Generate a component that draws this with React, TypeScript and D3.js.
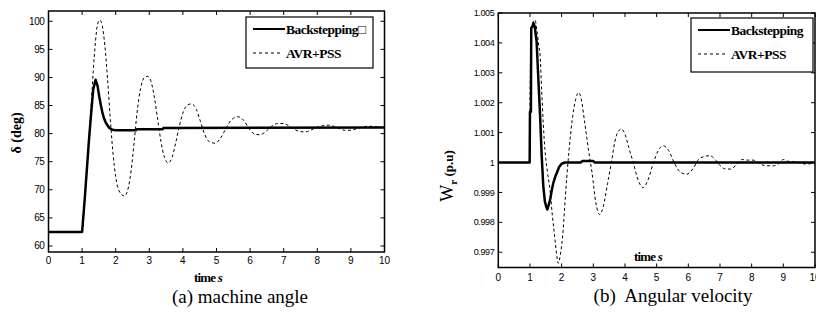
import * as d3 from "d3";

// time axis ticks shared by both panels
const timeTicks = [0, 1, 2, 3, 4, 5, 6, 7, 8, 9, 10];

// (a) machine angle, delta in degrees
const angleTicks = [60, 65, 70, 75, 80, 85, 90, 95, 100];
const angleBackT = [0, 1.0, 1.02, 1.08, 1.14, 1.2, 1.26, 1.33, 1.4, 1.46, 1.51, 1.56, 1.61, 1.66, 1.71, 1.81, 1.9, 2.0, 2.6, 2.62, 3.4, 3.42, 10];
const angleBackV = [62.5, 62.5, 64, 68.5, 73.5, 78.5, 83, 87.8, 89.6, 88.5, 86.6, 85, 83.6, 82.6, 81.9, 81.0, 80.7, 80.6, 80.6, 80.8, 80.8, 81.0, 81.1];
const anglePssT = [0, 1.0, 1.08, 1.14, 1.2, 1.26, 1.33, 1.4, 1.46, 1.53, 1.6, 1.68, 1.76, 1.84, 1.92, 2.0, 2.1, 2.26, 2.38, 2.46, 2.55, 2.64, 2.74, 2.84, 2.95, 3.05, 3.15, 3.25, 3.35, 3.45, 3.56, 3.68, 3.78, 3.9, 4.02, 4.14, 4.26, 4.4, 4.52, 4.64, 4.78, 4.96, 5.12, 5.28, 5.45, 5.65, 5.82, 5.98, 6.14, 6.3, 6.47, 6.64, 6.82, 6.99, 7.15, 7.31, 7.47, 7.63, 7.8, 7.98, 8.15, 8.33, 8.49, 8.65, 8.81, 8.97, 9.14, 9.3, 9.47, 9.65, 9.82, 10];
const anglePssV = [62.5, 62.5, 68.5, 73.5, 78.5, 84, 91, 96.5, 99.5, 100.2, 99.2, 95.5, 89.5, 82.5, 76.5, 72.3, 69.8, 68.9, 70.5, 73.5, 78.5, 84, 88, 89.9, 90.2, 89.3, 86.5, 82.5, 78.5, 75.8, 74.8, 75.8, 78.2, 81.5, 84, 85.1, 85.3, 84.3, 82.2, 80, 78.6, 78.3, 79.2, 80.9, 82.5, 83.0, 82.3, 80.8, 79.9, 79.8, 80.4, 81.3, 81.8, 81.8, 81.4, 80.8, 80.4, 80.3, 80.6, 81.1, 81.4, 81.5, 81.3, 80.9, 80.6, 80.6, 80.8, 81.1, 81.3, 81.3, 81.2, 81.1];

// (b) angular velocity, p.u.
const speedTicks = [0.997, 0.998, 0.999, 1, 1.001, 1.002, 1.003, 1.004, 1.005];
const speedTickLabels = ["0.997", "0.998", "0.999", "1", "1.001", "1.002", "1.003", "1.004", "1.005"];
const speedBackT = [0, 0.99, 1.0, 1.03, 1.04, 1.08, 1.11, 1.15, 1.21, 1.26, 1.32, 1.37, 1.42, 1.47, 1.51, 1.55, 1.6, 1.64, 1.69, 1.74, 1.8, 1.85, 1.92, 2.0, 2.1, 2.6, 2.65, 3.0, 3.05, 10];
const speedBackV = [1.0, 1.0, 1.0017, 1.0017, 1.0045, 1.00455, 1.00466, 1.00455, 1.00404, 1.0029, 1.00157, 1.00023, 0.99922, 0.9987, 0.99854, 0.99843, 0.99862, 0.99878, 0.99908, 0.99933, 0.99953, 0.99966, 0.99985, 0.99996, 1.0, 1.0, 1.00005, 1.00005, 1.0, 1.0];
const speedPssT = [0, 0.99, 1.0, 1.04, 1.1, 1.16, 1.22, 1.28, 1.32, 1.37, 1.42, 1.47, 1.55, 1.63, 1.71, 1.79, 1.85, 1.89, 1.96, 2.05, 2.12, 2.2, 2.27, 2.33, 2.44, 2.54, 2.64, 2.72, 2.8, 2.88, 2.96, 3.08, 3.2, 3.32, 3.45, 3.57, 3.68, 3.78, 3.89, 4.0, 4.12, 4.26, 4.42, 4.57, 4.72, 4.9, 5.05, 5.21, 5.38, 5.55, 5.75, 5.95, 6.15, 6.32, 6.5, 6.68, 6.85, 7.0, 7.15, 7.32, 7.5, 7.7, 7.87, 8.05, 8.2, 8.4, 8.55, 8.68, 8.85, 9.0, 9.15, 9.31, 9.5, 9.7, 9.85, 10];
const speedPssV = [1.0, 1.0, 1.0017, 1.0045, 1.0047, 1.00477, 1.0044, 1.0039, 1.00359, 1.0024, 1.0013, 1.00046, 0.9997, 0.9991, 0.9982, 0.99743, 0.99685, 0.99663, 0.99692, 0.99777, 0.9989, 1.0, 1.0008, 1.0014, 1.0021, 1.00234, 1.002, 1.0014, 1.00079, 1.0002, 0.99966, 0.99865, 0.99826, 0.99855, 0.9993, 1.0, 1.0007, 1.00103, 1.00112, 1.00095, 1.0005, 1.0, 0.9994, 0.99916, 0.9994, 1.0, 1.0004, 1.00056, 1.0004, 1.0, 0.99968, 0.99961, 0.9998, 1.0001, 1.0002, 1.00023, 1.0001, 0.9999, 0.99979, 0.99978, 0.9999, 1.0001, 1.00008, 1.00008, 1.0, 0.9999, 0.99989, 0.99989, 0.99996, 1.0001, 1.00004, 1.00003, 1.0, 0.99995, 0.99996, 1.0];

const seriesNames = ["Backstepping", "AVR+PSS"];

const zip = (t: number[], v: number[]) => t.map((d, i) => [d, v[i]] as [number, number]);

interface PanelProps {
  box: { x0: number; x1: number; y0: number; y1: number };
  yDomain: [number, number];
  yTicks: number[];
  yLabels: string[];
  yFont: number;
  xLabelY: number;
  back: [number, number][];
  pss: [number, number][];
  legend: { x: number; y: number; w: number; h: number; first: string };
}

function Panel({ box, yDomain, yTicks, yLabels, yFont, xLabelY, back, pss, legend }: PanelProps) {
  const x = d3.scaleLinear().domain([0, 10]).range([box.x0, box.x1]);
  const y = d3.scaleLinear().domain(yDomain).range([box.y1, box.y0]);
  const solid = d3.line<[number, number]>().x(d => x(d[0])).y(d => y(d[1]));
  const smooth = d3.line<[number, number]>().x(d => x(d[0])).y(d => y(d[1])).curve(d3.curveMonotoneX);
  const tk = 4;

  return (
    <g>
      <defs>
        <clipPath id={`clip${box.x0}`}>
          <rect x={box.x0} y={box.y0} width={box.x1 - box.x0} height={box.y1 - box.y0} />
        </clipPath>
      </defs>
      <g clipPath={`url(#clip${box.x0})`}>
        <path d={smooth(pss) ?? ""} fill="none" stroke="#000" strokeWidth={1} strokeDasharray="3,2.5" />
        <path d={solid(back) ?? ""} fill="none" stroke="#000" strokeWidth={2.5} strokeLinejoin="round" />
      </g>

      {/* ticks on all four sides, pointing inward */}
      {timeTicks.map(t => (
        <g key={`xt${t}`}>
          <line x1={x(t)} x2={x(t)} y1={box.y1} y2={box.y1 - tk} stroke="#000" />
          <line x1={x(t)} x2={x(t)} y1={box.y0} y2={box.y0 + tk} stroke="#000" />
          <text x={x(t)} y={xLabelY} fontSize={10} textAnchor="middle" fontFamily="Liberation Sans, Arial">{t}</text>
        </g>
      ))}
      {yTicks.map((v, i) => (
        <g key={`yt${v}`}>
          <line x1={box.x0} x2={box.x0 + tk} y1={y(v)} y2={y(v)} stroke="#000" />
          <line x1={box.x1} x2={box.x1 - tk} y1={y(v)} y2={y(v)} stroke="#000" />
          <text x={box.x0 - 4} y={y(v)} dy="0.35em" fontSize={yFont} textAnchor="end" letterSpacing={-0.4} fontFamily="Liberation Sans, Arial">{yLabels[i]}</text>
        </g>
      ))}
      <rect x={box.x0} y={box.y0} width={box.x1 - box.x0} height={box.y1 - box.y0} fill="none" stroke="#000" strokeWidth={1.5} />

      {/* legend */}
      <rect x={legend.x} y={legend.y} width={legend.w} height={legend.h} fill="#fff" stroke="#000" strokeWidth={1.2} />
      <line x1={legend.x + 7} x2={legend.x + 39} y1={legend.y + 12} y2={legend.y + 12} stroke="#000" strokeWidth={2} />
      <line x1={legend.x + 7} x2={legend.x + 37} y1={legend.y + 36} y2={legend.y + 36} stroke="#000" strokeWidth={1} strokeDasharray="3,3" />
      <text x={legend.x + 40} y={legend.y + 16.5} fontSize={13.5} fontWeight="bold" letterSpacing={-0.5} fontFamily="Liberation Serif, Times New Roman">{legend.first}</text>
      <text x={legend.x + 40} y={legend.y + 40.5} fontSize={13.5} fontWeight="bold" letterSpacing={-0.5} fontFamily="Liberation Serif, Times New Roman">{seriesNames[1]}</text>
    </g>
  );
}

export default function App() {
  return (
    <svg width={816} height={320} style={{ position: "absolute", left: 0, top: 0, background: "#fff" }} fontFamily="Liberation Serif, Times New Roman">
      <rect width={816} height={320} fill="#fff" />
      <Panel
        box={{ x0: 48.5, x1: 384.5, y0: 11, y1: 252 }}
        yDomain={[58.93, 101.83]}
        yTicks={angleTicks}
        yLabels={angleTicks.map(String)}
        yFont={10}
        xLabelY={264}
        back={zip(angleBackT, angleBackV)}
        pss={zip(anglePssT, anglePssV)}
        legend={{ x: 246, y: 17, w: 127, h: 51, first: seriesNames[0] + "\u25A1" }}
      />
      <Panel
        box={{ x0: 498.3, x1: 815, y0: 13, y1: 267.5 }}
        yDomain={[0.99649, 1.005]}
        yTicks={speedTicks}
        yLabels={speedTickLabels}
        yFont={9}
        xLabelY={281}
        back={zip(speedBackT, speedBackV)}
        pss={zip(speedPssT, speedPssV)}
        legend={{ x: 691, y: 18, w: 122, h: 54, first: seriesNames[0] }}
      />

      {/* axis titles */}
      <text transform="translate(21,133) rotate(-90)" textAnchor="middle" fontSize={14} fontWeight="bold">δ (deg)</text>
      <text x={208} y={282} textAnchor="middle" fontSize={13} fontWeight="bold" letterSpacing={-0.8}>time <tspan fontStyle="italic">s</tspan></text>
      <text transform="translate(453,176) rotate(-90)" textAnchor="middle" fontWeight="bold">
        <tspan fontSize={18} fontWeight="normal">W</tspan>
        <tspan fontSize={11} dy={4}>r</tspan>
        <tspan fontSize={13} dy={-4}> (p.u)</tspan>
      </text>
      <text x={648} y={261} textAnchor="middle" fontSize={13} fontWeight="bold" letterSpacing={-0.8}>time <tspan fontStyle="italic">s</tspan></text>

      {/* captions */}
      <text x={240} y={303} textAnchor="middle" fontSize={19}>(a) machine angle</text>
      <text x={673} y={302} textAnchor="middle" fontSize={19} xmlSpace="preserve">(b)  Angular velocity</text>
    </svg>
  );
}
